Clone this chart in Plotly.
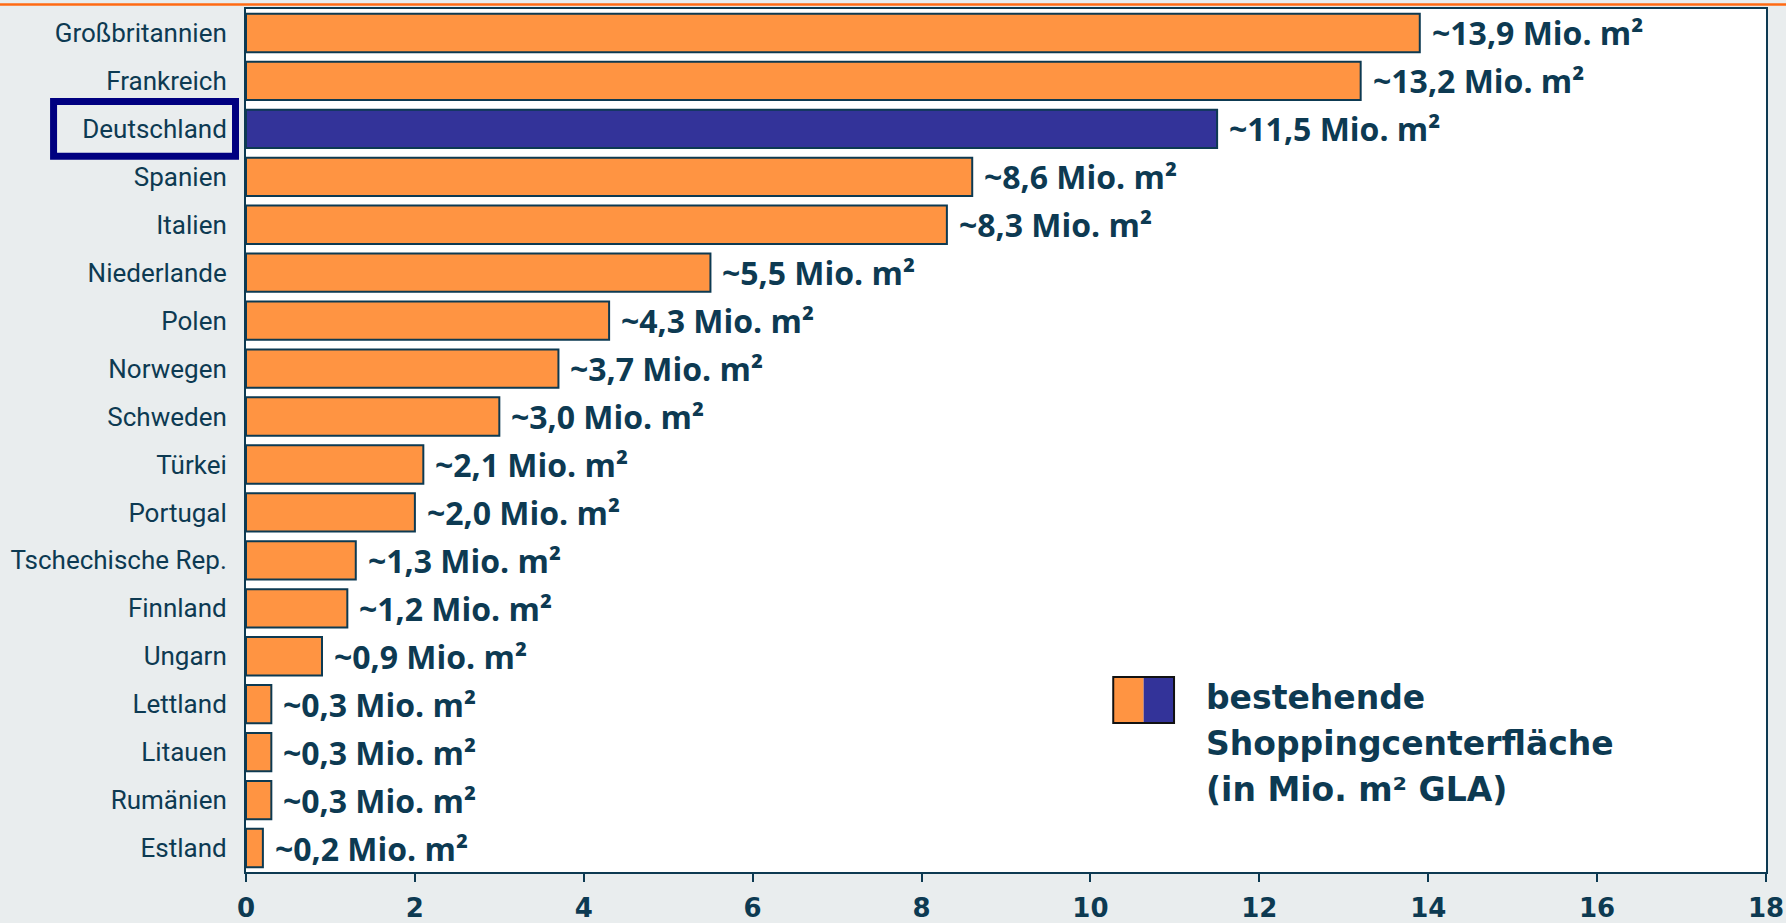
import plotly.graph_objects as go

countries = ["Großbritannien", "Frankreich", "Deutschland", "Spanien", "Italien",
             "Niederlande", "Polen", "Norwegen", "Schweden", "Türkei", "Portugal",
             "Tschechische Rep.", "Finnland", "Ungarn", "Lettland", "Litauen",
             "Rumänien", "Estland"]
values = [13.9, 13.2, 11.5, 8.6, 8.3, 5.5, 4.3, 3.7, 3.0, 2.1, 2.0, 1.3, 1.2, 0.9,
          0.3, 0.3, 0.3, 0.2]
value_labels = ["~13,9 Mio. m²", "~13,2 Mio. m²", "~11,5 Mio. m²", "~8,6 Mio. m²",
                "~8,3 Mio. m²", "~5,5 Mio. m²", "~4,3 Mio. m²", "~3,7 Mio. m²",
                "~3,0 Mio. m²", "~2,1 Mio. m²", "~2,0 Mio. m²", "~1,3 Mio. m²",
                "~1,2 Mio. m²", "~0,9 Mio. m²", "~0,3 Mio. m²", "~0,3 Mio. m²",
                "~0,3 Mio. m²", "~0,2 Mio. m²"]
highlight = "Deutschland"
x_ticks = [0, 2, 4, 6, 8, 10, 12, 14, 16, 18]
legend_lines = ["bestehende", "Shoppingcenterfläche", "(in Mio. m² GLA)"]

ORANGE = "#FF9442"
NAVY = "#333399"
DARK = "#0d3a52"
BG = "#e9edee"

colors = [NAVY if c == highlight else ORANGE for c in countries]

fig = go.Figure()
fig.add_trace(go.Bar(
    y=countries, x=values, orientation="h",
    marker=dict(color=colors, line=dict(color=DARK, width=2)),
    showlegend=False, hoverinfo="skip",
))

for c, v, t in zip(countries, values, value_labels):
    fig.add_annotation(x=v, y=c, xref="x", yref="y", text=t, showarrow=False,
                       xanchor="left", yanchor="middle", xshift=10,
                       font=dict(family="Open Sans", size=32, color=DARK, weight="bold"))

# highlight box around Deutschland label
idx = countries.index(highlight)
fig.add_shape(type="rect", xref="paper", yref="y",
              x0=-0.1266, x1=-0.0069, y0=idx - 0.57, y1=idx + 0.57,
              line=dict(color="#000080", width=7), fillcolor="rgba(0,0,0,0)")

# top orange line
fig.add_shape(type="line", xref="paper", yref="paper",
              x0=-0.17, x1=1.02, y0=1.0053, y1=1.0053,
              line=dict(color="#FF6A13", width=2.5))

# legend swatch
sw_y0, sw_y1 = (872 - 723) / 863, (872 - 677) / 863
fig.add_shape(type="rect", xref="x", yref="paper", x0=10.27, x1=10.63, y0=sw_y0, y1=sw_y1,
              fillcolor=ORANGE, line=dict(width=0))
fig.add_shape(type="rect", xref="x", yref="paper", x0=10.63, x1=10.99, y0=sw_y0, y1=sw_y1,
              fillcolor=NAVY, line=dict(width=0))
fig.add_shape(type="rect", xref="x", yref="paper", x0=10.27, x1=10.99, y0=sw_y0, y1=sw_y1,
              fillcolor="rgba(0,0,0,0)", line=dict(color="#111111", width=2))
legend_y = [(872 - 697) / 863, (872 - 743) / 863, (872 - 789) / 863]
for line, ly in zip(legend_lines, legend_y):
    fig.add_annotation(x=11.39, y=ly, xref="x", yref="paper", text=line, showarrow=False,
                       xanchor="left", yanchor="middle", xshift=-4,
                       font=dict(family="DejaVu Sans", size=33, color=DARK, weight="bold"))

fig.update_layout(
    width=1786, height=923,
    margin=dict(l=246, r=20, t=9, b=51),
    paper_bgcolor=BG, plot_bgcolor="white",
    bargap=0.2,
    xaxis=dict(range=[0, 18], tickvals=x_ticks, ticktext=[str(t) for t in x_ticks],
               showgrid=False, zeroline=False, showline=True, linecolor=DARK, linewidth=2,
               mirror=True, ticks="outside", ticklen=8, tickwidth=2, tickcolor=DARK,
               ticklabelstandoff=4, automargin=False,
               tickfont=dict(family="DejaVu Sans", size=26, color=DARK, weight="bold"),
               fixedrange=True),
    yaxis=dict(autorange="reversed", showgrid=False, showline=True, linecolor=DARK,
               linewidth=2, mirror=True, ticks="", ticklabelstandoff=12, automargin=False,
               tickfont=dict(family="Roboto", size=26, color=DARK),
               fixedrange=True),
)

fig.write_html("out.html")
